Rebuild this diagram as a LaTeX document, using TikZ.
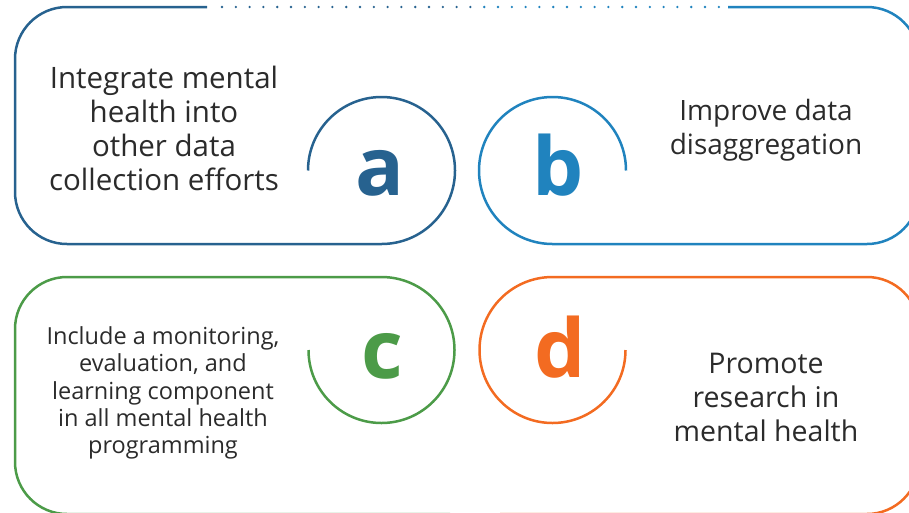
\documentclass[tikz,border=0pt]{standalone}
\usepackage{fontspec}
\setmainfont{Open Sans}
\definecolor{colA}{HTML}{27628F}
\definecolor{colB}{HTML}{2083BE}
\definecolor{colC}{HTML}{4C9B48}
\definecolor{colD}{HTML}{F36B21}
\definecolor{txt}{HTML}{2B2B2B}
\begin{document}
\begin{tikzpicture}[x=1pt,y=1pt,
  boxline/.style={line width=2.5pt},
  dotline/.style={line width=2.6pt, line cap=round, dash pattern=on 0pt off 13.8pt},
  body/.style={font=\fontsize{28.5}{34}\selectfont, text=txt, align=center, inner sep=0pt},
  small/.style={font=\fontsize{23.5}{27.3}\selectfont, text=txt, align=center, inner sep=0pt},
  letter/.style={font=\fontsize{81}{81}\selectfont\bfseries, inner sep=0pt, anchor=base}]
\useasboundingbox (0,0) rectangle (909,-512);
\clip (0,0) rectangle (909,-512);

% box a
\draw[boxline, colA] (207,-7) -- (67,-7) arc[start angle=90,end angle=180,radius=52]
  -- (15,-192) arc[start angle=180,end angle=270,radius=52]
  -- (381.5,-244) arc[start angle=-90,end angle=180,radius=73.5];
% dotted top
\draw[dotline, colA] (222,-7) -- (477,-7);
\draw[dotline, colB] (484.2,-7) -- (720,-7);
% box b
\draw[boxline, colB] (728,-7) -- (867,-7) arc[start angle=90,end angle=0,radius=52]
  -- (919,-192) arc[start angle=0,end angle=-90,radius=52]
  -- (552.5,-244) arc[start angle=270,end angle=0,radius=73.5];
% box c
\draw[boxline, colC] (308.5,-350) arc[start angle=180,end angle=450,radius=73]
  -- (67,-277) arc[start angle=90,end angle=180,radius=52]
  -- (15,-462) arc[start angle=180,end angle=270,radius=52]
  -- (450,-514);
% box d
\draw[boxline, colD] (625.5,-350) arc[start angle=0,end angle=-270,radius=73]
  -- (867,-277) arc[start angle=90,end angle=0,radius=52]
  -- (919,-462) arc[start angle=0,end angle=-90,radius=52]
  -- (500,-514);

% texts
\node[body, font=\fontsize{29.5}{34}\selectfont] (ta) at (164,-128) {Integrate mental\\health into\\other data\\collection efforts};
\node[body, font=\fontsize{28}{34}\selectfont] (tb) at (766,-130.5) {Improve data\\disaggregation};
\node[small] (tc) at (163,-393) {Include a monitoring,\\evaluation, and\\learning component\\in all mental health\\programming};
\node[body] (td) at (766,-397) {Promote\\research in\\mental health};

% letters
\node[letter, text=colA] (la) at (380,-195) {a};
\node[letter, text=colB] (lb) at (558,-195) {b};
\node[letter, text=colC] (lc) at (382,-378) {c};
\node[letter, text=colD] (ld) at (560,-377) {d};
\end{tikzpicture}
\end{document}
